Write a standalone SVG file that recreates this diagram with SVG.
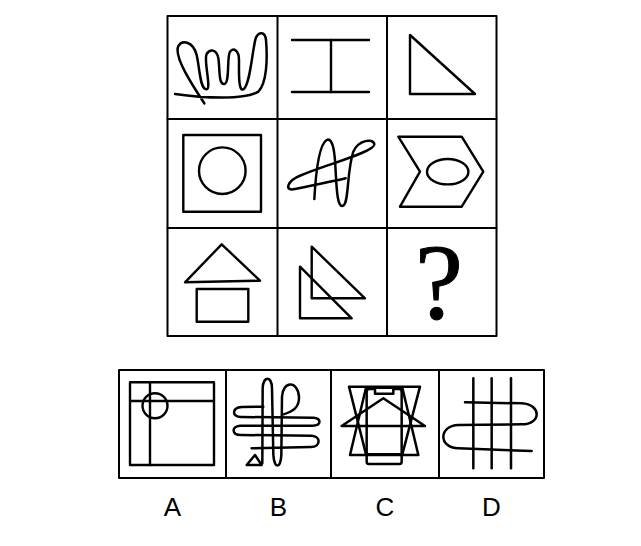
<svg xmlns="http://www.w3.org/2000/svg" width="641" height="546" viewBox="0 0 641 546">
<style>
.ln{fill:none;stroke:#000;stroke-width:2;stroke-linejoin:round;stroke-linecap:round}
.f{fill:none;stroke:#000;stroke-width:2.4;stroke-linejoin:round;stroke-linecap:round}
.z{fill:none;stroke:#000;stroke-width:7.5;stroke-linejoin:round;stroke-linecap:round}
.lbl{font-family:"Liberation Sans",Arial,sans-serif;font-size:26px;fill:#000;text-anchor:middle}
</style>
<rect width="641" height="546" fill="#fff"/>
<g id="grid">
<rect class="ln" x="167.5" y="16" width="329" height="320"/>
<line class="ln" x1="277.5" y1="16" x2="277.5" y2="336"/>
<line class="ln" x1="387" y1="16" x2="387" y2="336"/>
<line class="ln" x1="167.5" y1="119" x2="496.5" y2="119"/>
<line class="ln" x1="167.5" y1="228" x2="496.5" y2="228"/>
</g>
<g id="cell1" transform="translate(165,10) scale(0.33333)">
<path class="z" d="M118,280 C85,230 25,140 40,108 C52,88 85,95 95,135 C105,180 105,240 125,238 C140,236 115,150 125,132 C135,115 155,118 160,145 C165,175 160,225 178,222 C195,220 185,140 195,125 C205,112 222,120 222,150 C222,190 220,245 235,238 C255,228 262,120 272,85 C280,65 300,62 303,90 C308,150 305,220 280,245 C240,270 120,265 30,252"/>
</g>
<g id="cell2">
<line class="f" x1="292" y1="40" x2="369" y2="40"/>
<line class="f" x1="292" y1="92" x2="369" y2="92"/>
<line class="f" x1="331" y1="40" x2="331" y2="92"/>
</g>
<g id="cell3">
<polygon class="f" points="410,35 410,94 475,94"/>
</g>
<g id="cell4">
<rect class="f" x="183.3" y="135" width="77.7" height="76.7"/>
<circle class="f" cx="222.3" cy="170.7" r="23.3"/>
</g>
<g id="cell5" transform="translate(165,115) scale(0.33333)">
<path class="z" d="M448,252 C452,180 460,90 485,75 C505,65 510,120 512,170 C515,230 518,280 535,272 C552,262 545,170 565,110 C580,75 625,68 628,88 C630,110 480,150 410,180 C360,200 360,230 390,222 C440,212 500,200 542,190"/>
</g>
<g id="cell6">
<polygon class="f" points="398.3,136.7 461.7,136.7 483.3,171.7 461.7,206.7 400,206.7 420,171.7"/>
<ellipse class="f" cx="447.7" cy="171.7" rx="20.7" ry="12.7"/>
</g>
<g id="cell7">
<polygon class="f" points="185,282.3 221.7,244.3 260,280.7"/>
<rect class="f" x="196.7" y="289" width="51.6" height="32.7"/>
</g>
<g id="cell8">
<polygon class="f" points="311.7,246.7 311.7,298.3 365,298.3"/>
<polygon class="f" points="300,266.7 300,318.3 351.7,318.3"/>
</g>
<g id="cell9">
<text x="439" y="318" font-family="'Liberation Serif','Times New Roman',serif" font-size="108" stroke="#000" stroke-width="1" text-anchor="middle">?</text>
</g>
<g id="options">
<rect class="ln" x="119" y="370" width="425" height="108"/>
<line class="ln" x1="226" y1="370" x2="226" y2="478"/>
<line class="ln" x1="331" y1="370" x2="331" y2="478"/>
<line class="ln" x1="439" y1="370" x2="439" y2="478"/>
</g>
<g id="optA">
<rect class="f" x="130" y="382.3" width="84" height="82.7"/>
<line class="f" x1="130" y1="401" x2="214" y2="401"/>
<line class="f" x1="150" y1="382.3" x2="150" y2="465"/>
<circle class="f" cx="155" cy="405.7" r="12.5"/>
</g>
<g id="optB" transform="translate(115,365) scale(0.33333)">
<path class="z" d="M445,125 L380,126 C350,128 350,156 378,156 L595,158 C620,160 620,182 592,182 L375,182 C348,184 350,210 378,210 L590,212 C618,214 618,245 588,246 L410,250"/>
<path class="z" d="M442,295 L443,70 C445,32 470,32 471,70 L475,270 C478,312 497,312 499,270 L501,95 C503,48 548,45 552,95 C554,130 530,140 506,148"/>
<polygon class="z" points="395,300 420,270 440,300"/>
</g>
<g id="optC" transform="translate(325,365) scale(0.33333)">
<polygon class="z" points="72,65 285,65 232,268 123,268"/>
<polygon class="z" points="75,270 280,270 232,68 123,68"/>
<path class="z" d="M125,290 L125,82 Q125,72 132,72 L150,72 L150,86 L205,86 L205,72 L223,72 Q230,72 230,82 L230,290 Q230,297 223,297 L132,297 Q125,297 125,290 Z" fill="#fff"/>
<polyline class="z" points="50,183 175,100 300,183 50,183"/>
</g>
<g id="optD" transform="translate(325,365) scale(0.33333)">
<line class="z" x1="445" y1="40" x2="445" y2="310"/>
<line class="z" x1="500" y1="40" x2="500" y2="310"/>
<line class="z" x1="558" y1="40" x2="558" y2="310"/>
<path class="z" d="M420,112 L590,115 C650,118 650,178 590,178 L400,180 C340,182 340,248 400,250 L620,258"/>
</g>
<g id="labels">
<text class="lbl" x="172.5" y="516">A</text>
<text class="lbl" x="278.5" y="516">B</text>
<text class="lbl" x="385" y="516">C</text>
<text class="lbl" x="491.5" y="516">D</text>
</g>
</svg>
